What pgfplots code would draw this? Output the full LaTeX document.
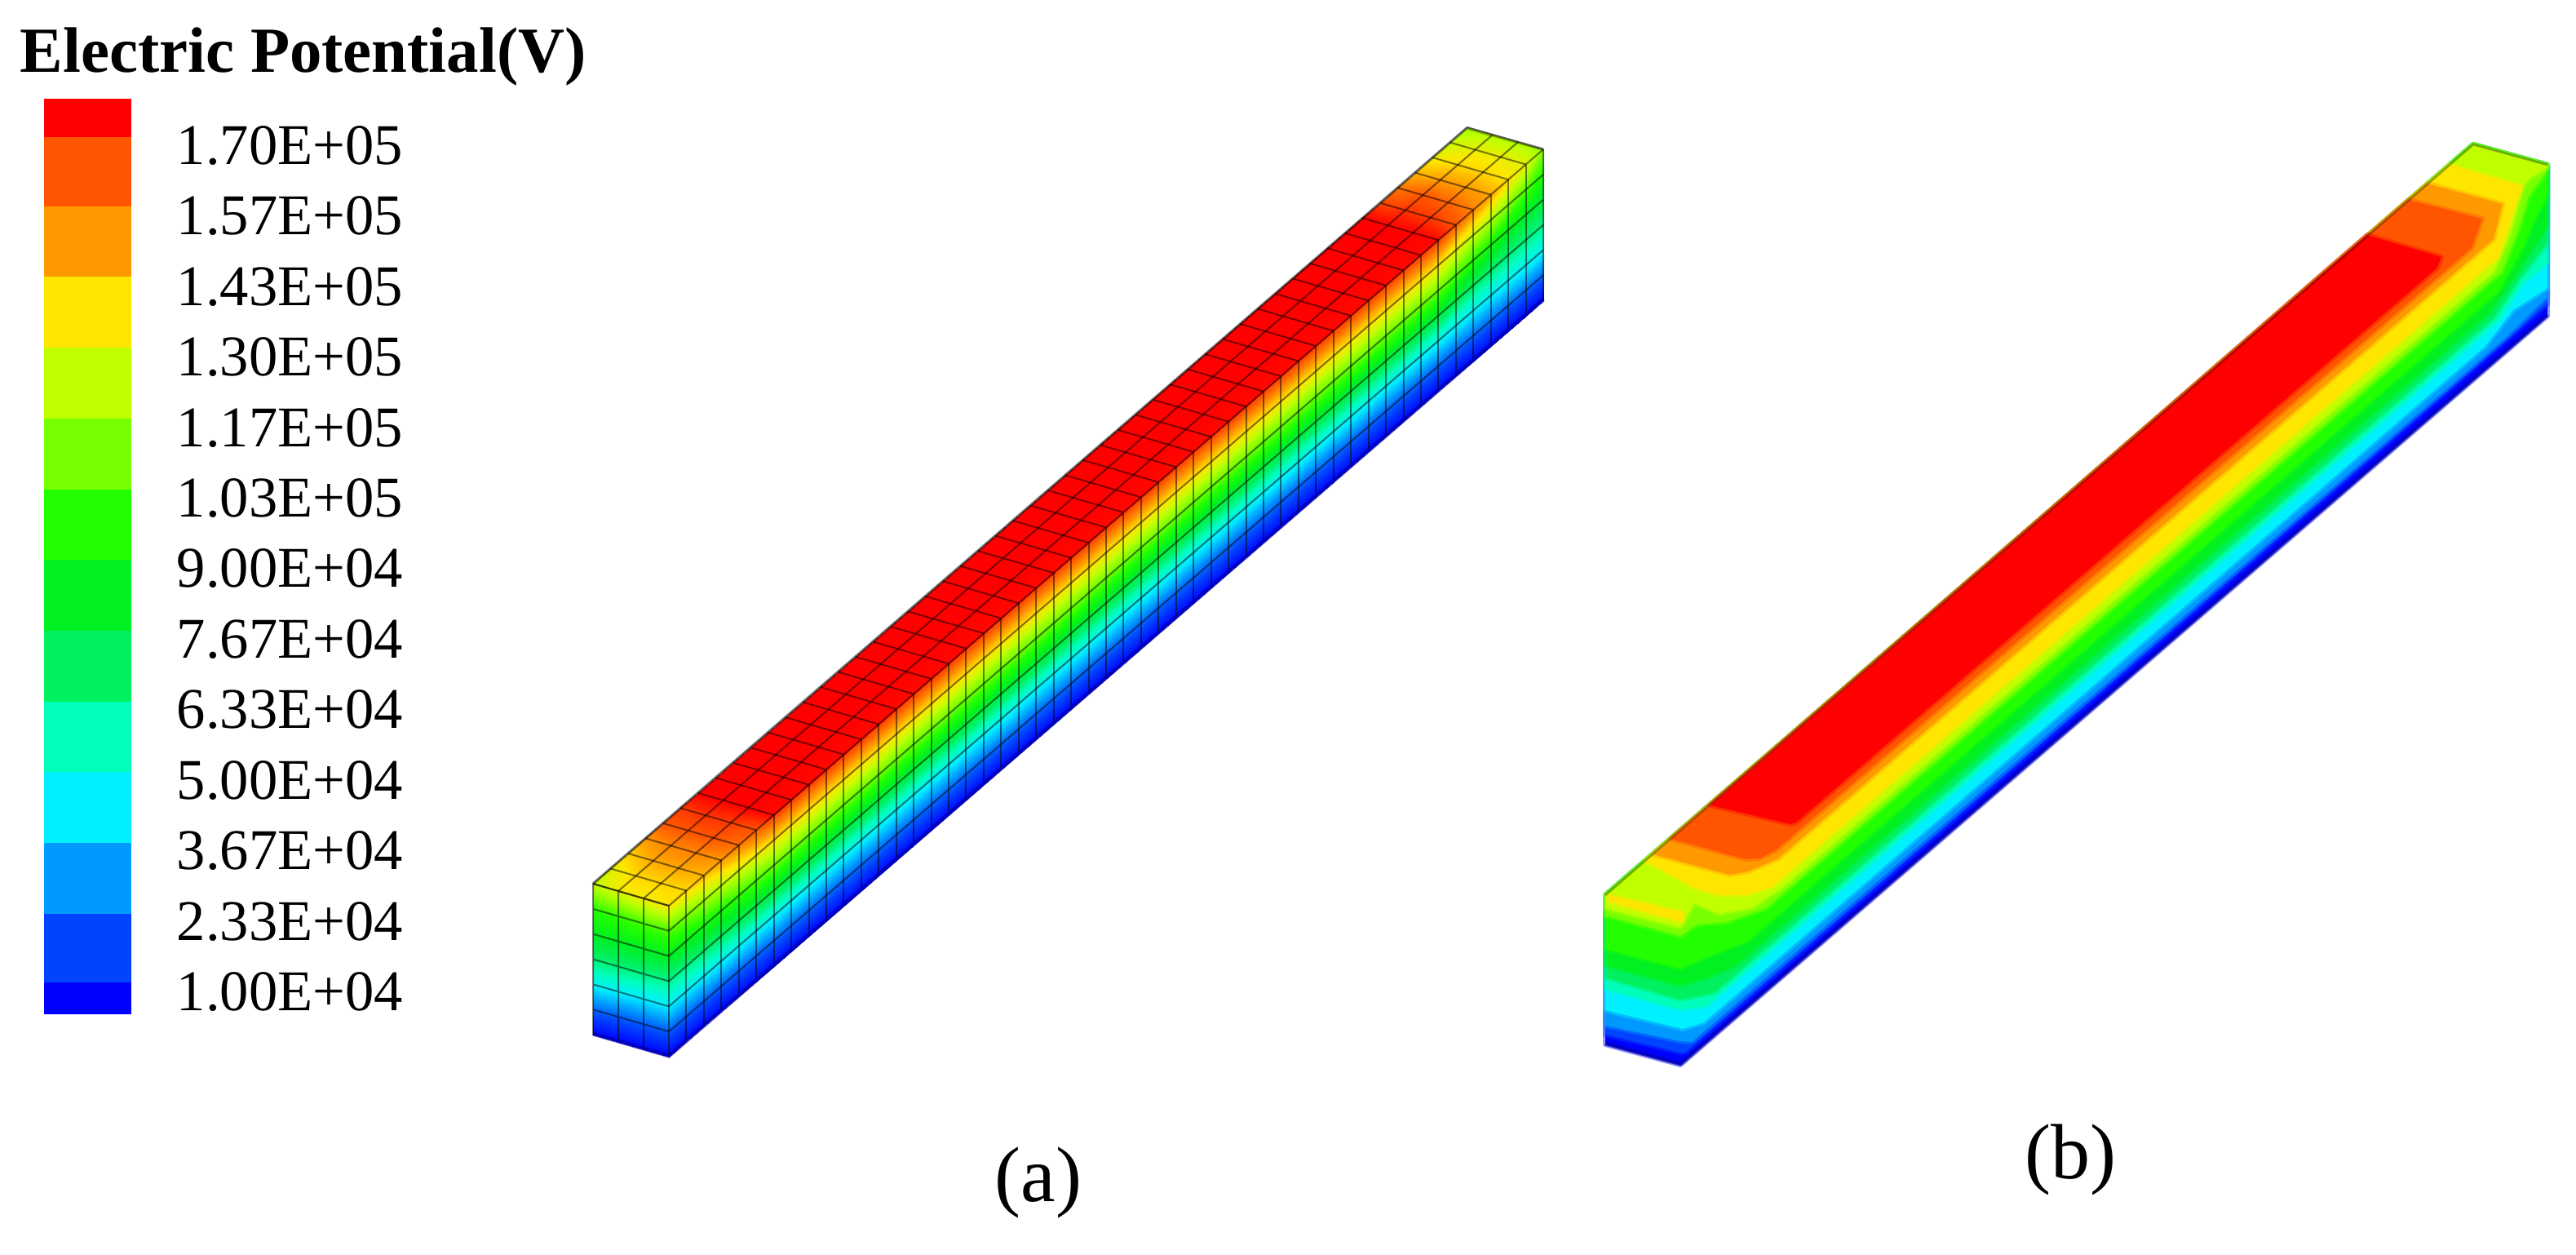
\documentclass[border=0pt]{standalone}
\usepackage{pgfplots}
\usepackage{pgfplotstable}
\usepackage{fontspec}
\setmainfont{Liberation Serif}
\pgfplotsset{compat=1.18}
\definecolor{c0}{RGB}{0,0,255}
\definecolor{c1}{RGB}{0,68,255}
\definecolor{c2}{RGB}{0,153,255}
\definecolor{c3}{RGB}{0,240,255}
\definecolor{c4}{RGB}{0,255,187}
\definecolor{c5}{RGB}{0,240,96}
\definecolor{c6}{RGB}{0,240,34}
\definecolor{c7}{RGB}{34,255,0}
\definecolor{c8}{RGB}{120,255,0}
\definecolor{c9}{RGB}{191,255,0}
\definecolor{c10}{RGB}{255,230,0}
\definecolor{c11}{RGB}{255,153,0}
\definecolor{c12}{RGB}{255,85,0}
\definecolor{c13}{RGB}{255,0,0}
\definecolor{navy}{RGB}{0,0,170}
\pgfplotstableread[row sep=\\]{
u a\\
0 0\\0 1\\nan nan\\0.02 0\\0.02 1\\nan nan\\0.04 0\\0.04 1\\nan nan\\0.06 0\\0.06 1\\nan nan\\0.08 0\\0.08 1\\nan nan\\
0.10 0\\0.10 1\\nan nan\\0.12 0\\0.12 1\\nan nan\\0.14 0\\0.14 1\\nan nan\\0.16 0\\0.16 1\\nan nan\\0.18 0\\0.18 1\\nan nan\\
0.20 0\\0.20 1\\nan nan\\0.22 0\\0.22 1\\nan nan\\0.24 0\\0.24 1\\nan nan\\0.26 0\\0.26 1\\nan nan\\0.28 0\\0.28 1\\nan nan\\
0.30 0\\0.30 1\\nan nan\\0.32 0\\0.32 1\\nan nan\\0.34 0\\0.34 1\\nan nan\\0.36 0\\0.36 1\\nan nan\\0.38 0\\0.38 1\\nan nan\\
0.40 0\\0.40 1\\nan nan\\0.42 0\\0.42 1\\nan nan\\0.44 0\\0.44 1\\nan nan\\0.46 0\\0.46 1\\nan nan\\0.48 0\\0.48 1\\nan nan\\
0.50 0\\0.50 1\\nan nan\\0.52 0\\0.52 1\\nan nan\\0.54 0\\0.54 1\\nan nan\\0.56 0\\0.56 1\\nan nan\\0.58 0\\0.58 1\\nan nan\\
0.60 0\\0.60 1\\nan nan\\0.62 0\\0.62 1\\nan nan\\0.64 0\\0.64 1\\nan nan\\0.66 0\\0.66 1\\nan nan\\0.68 0\\0.68 1\\nan nan\\
0.70 0\\0.70 1\\nan nan\\0.72 0\\0.72 1\\nan nan\\0.74 0\\0.74 1\\nan nan\\0.76 0\\0.76 1\\nan nan\\0.78 0\\0.78 1\\nan nan\\
0.80 0\\0.80 1\\nan nan\\0.82 0\\0.82 1\\nan nan\\0.84 0\\0.84 1\\nan nan\\0.86 0\\0.86 1\\nan nan\\0.88 0\\0.88 1\\nan nan\\
0.90 0\\0.90 1\\nan nan\\0.92 0\\0.92 1\\nan nan\\0.94 0\\0.94 1\\nan nan\\0.96 0\\0.96 1\\nan nan\\0.98 0\\0.98 1\\nan nan\\
1 0\\1 1\\
}\gridU
\pgfplotstableread[row sep=\\]{
u t\\
0 0\\1 0\\nan nan\\0 0.1667\\1 0.1667\\nan nan\\0 0.3333\\1 0.3333\\nan nan\\0 0.5\\1 0.5\\nan nan\\0 0.6667\\1 0.6667\\nan nan\\0 0.8333\\1 0.8333\\
}\gridSide
\pgfplotstableread[row sep=\\]{
u v\\
0 0\\1 0\\nan nan\\0 0.3333\\1 0.3333\\nan nan\\0 0.6667\\1 0.6667\\
}\gridTop
\pgfplotstableread[row sep=\\]{
s t\\
0 0\\1 0\\nan nan\\0 0.1667\\1 0.1667\\nan nan\\0 0.3333\\1 0.3333\\nan nan\\0 0.5\\1 0.5\\nan nan\\0 0.6667\\1 0.6667\\nan nan\\0 0.8333\\1 0.8333\\nan nan\\
0 0\\0 1\\nan nan\\0.3333 0\\0.3333 1\\nan nan\\0.6667 0\\0.6667 1\\
}\gridFront
\begin{document}
\begin{tikzpicture}
\begin{axis}[
  scale only axis, width=789.5pt, height=384.5pt,
  xmin=0, xmax=3158, ymin=0, ymax=1538, y dir=reverse,
  hide axis, enlargelimits=false, clip=true,
  colormap={fea}{rgb255=(0,0,255) rgb255=(0,68,255) rgb255=(0,153,255) rgb255=(0,240,255) rgb255=(0,255,187) rgb255=(0,240,96) rgb255=(0,240,34) rgb255=(34,255,0) rgb255=(120,255,0) rgb255=(191,255,0) rgb255=(255,230,0) rgb255=(255,153,0) rgb255=(255,85,0) rgb255=(255,0,0)},
  point meta min=0, point meta max=13,
  legbar/.style={draw=none},
  gline/.style={draw=black, draw opacity=0.5, line width=0.5pt, unbounded coords=jump, forget plot},
  band/.style={fill=#1, draw=#1, draw opacity=0.4, line width=1.5pt, line join=round},
]
\addplot[fill=white,draw=none] coordinates {(0,0)(3158,0)(3158,1538)(0,1538)} -- cycle;

% legend
\addplot[legbar,fill=c13] coordinates {(54,121)(161,121)(161,168)(54,168)} -- cycle;
\addplot[legbar,fill=c12] coordinates {(54,168)(161,168)(161,253)(54,253)} -- cycle;
\addplot[legbar,fill=c11] coordinates {(54,253)(161,253)(161,339)(54,339)} -- cycle;
\addplot[legbar,fill=c10] coordinates {(54,339)(161,339)(161,426)(54,426)} -- cycle;
\addplot[legbar,fill=c9] coordinates {(54,426)(161,426)(161,513)(54,513)} -- cycle;
\addplot[legbar,fill=c8] coordinates {(54,513)(161,513)(161,600)(54,600)} -- cycle;
\addplot[legbar,fill=c7] coordinates {(54,600)(161,600)(161,686)(54,686)} -- cycle;
\addplot[legbar,fill=c6] coordinates {(54,686)(161,686)(161,773)(54,773)} -- cycle;
\addplot[legbar,fill=c5] coordinates {(54,773)(161,773)(161,860)(54,860)} -- cycle;
\addplot[legbar,fill=c4] coordinates {(54,860)(161,860)(161,946)(54,946)} -- cycle;
\addplot[legbar,fill=c3] coordinates {(54,946)(161,946)(161,1033)(54,1033)} -- cycle;
\addplot[legbar,fill=c2] coordinates {(54,1033)(161,1033)(161,1120)(54,1120)} -- cycle;
\addplot[legbar,fill=c1] coordinates {(54,1120)(161,1120)(161,1204)(54,1204)} -- cycle;
\addplot[legbar,fill=c0] coordinates {(54,1204)(161,1204)(161,1243)(54,1243)} -- cycle;

\node[anchor=west,inner sep=0pt,font=\fontsize{19.7pt}{22pt}\selectfont\bfseries] at (axis cs:24,70) {Electric Potential(V)};
\begin{scope}[every node/.style={anchor=west,inner sep=0pt,font=\fontsize{17.65pt}{20pt}\selectfont}]
\node at (axis cs:216,179) {1.70E+05};
\node at (axis cs:216,265) {1.57E+05};
\node at (axis cs:216,352) {1.43E+05};
\node at (axis cs:216,438) {1.30E+05};
\node at (axis cs:216,525) {1.17E+05};
\node at (axis cs:216,611) {1.03E+05};
\node at (axis cs:216,697) {9.00E+04};
\node at (axis cs:216,784) {7.67E+04};
\node at (axis cs:216,870) {6.33E+04};
\node at (axis cs:216,957) {5.00E+04};
\node at (axis cs:216,1043) {3.67E+04};
\node at (axis cs:216,1130) {2.33E+04};
\node at (axis cs:216,1216) {1.00E+04};
\end{scope}
\node[inner sep=0pt,font=\fontsize{24pt}{28pt}\selectfont] at (axis cs:1273,1449) {(a)};
\node[inner sep=0pt,font=\fontsize{24pt}{28pt}\selectfont] at (axis cs:2538,1421) {(b)};

% ---- box (a): side face
\addplot[surf,shader=interp,mesh/cols=7,point meta=\thisrow{m}] table[x expr={820+1072*\thisrow{u}},y expr={1110-927*\thisrow{u}+185*\thisrow{t}}] {
u t m
0 0 10
0 0.1667 7.5
0 0.3333 6
0 0.5 4.5
0 0.6667 3
0 0.8333 1.3
0 1 0
0.02 0 10.3
0.02 0.1667 8
0.02 0.3333 6.2
0.02 0.5 4.6
0.02 0.6667 3
0.02 0.8333 1.3
0.02 1 0
0.06 0 11
0.06 0.1667 9
0.06 0.3333 6.8
0.06 0.5 5
0.06 0.6667 3.1
0.06 0.8333 1.3
0.06 1 0
0.12 0 12.3
0.12 0.1667 10
0.12 0.3333 7.8
0.12 0.5 5.5
0.12 0.6667 3.2
0.12 0.8333 1.4
0.12 1 0
0.88 0 12.3
0.88 0.1667 10
0.88 0.3333 7.8
0.88 0.5 5.5
0.88 0.6667 3.2
0.88 0.8333 1.4
0.88 1 0
0.94 0 10.8
0.94 0.1667 8.7
0.94 0.3333 6.6
0.94 0.5 4.8
0.94 0.6667 3.1
0.94 0.8333 1.4
0.94 1 0
0.98 0 9.5
0.98 0.1667 7.5
0.98 0.3333 5.9
0.98 0.5 4.6
0.98 0.6667 3.2
0.98 0.8333 1.4
0.98 1 0
1 0 8.2
1 0.1667 6.8
1 0.3333 5.5
1 0.5 4.5
1 0.6667 3.2
1 0.8333 1.4
1 1 0
};
% top face
\addplot[surf,shader=interp,mesh/cols=4,point meta=\thisrow{m}] table[x expr={727+1072*\thisrow{u}+93*\thisrow{v}},y expr={1083-927*\thisrow{u}+27*\thisrow{v}}] {
u v m
0 0 9
0 0.3333 9.8
0 0.6667 9.8
0 1 10
0.02 0 9.5
0.02 0.3333 10.2
0.02 0.6667 10.2
0.02 1 10.2
0.04 0 10.3
0.04 0.3333 10.8
0.04 0.6667 10.8
0.04 1 10.6
0.06 0 11
0.06 0.3333 11.3
0.06 0.6667 11.3
0.06 1 11
0.08 0 12
0.08 0.3333 12
0.08 0.6667 12
0.08 1 11.6
0.10 0 12.3
0.10 0.3333 12.4
0.10 0.6667 12.3
0.10 1 12
0.12 0 13
0.12 0.3333 13
0.12 0.6667 13
0.12 1 12.9
0.88 0 13
0.88 0.3333 13
0.88 0.6667 13
0.88 1 12.9
0.90 0 12.2
0.90 0.3333 12.4
0.90 0.6667 12.3
0.90 1 12
0.92 0 11.5
0.92 0.3333 12
0.92 0.6667 11.8
0.92 1 11.3
0.94 0 10.6
0.94 0.3333 11
0.94 0.6667 11
0.94 1 10.8
0.96 0 9.8
0.96 0.3333 10.2
0.96 0.6667 10.2
0.96 1 10
0.98 0 9.2
0.98 0.3333 9.7
0.98 0.6667 9.7
0.98 1 9.5
1 0 8.6
1 0.3333 8.8
1 0.6667 8.8
1 1 8.4
};
% front face
\addplot[surf,shader=interp,mesh/cols=7,point meta=\thisrow{m}] table[x expr={727+93*\thisrow{s}},y expr={1083+27*\thisrow{s}+185*\thisrow{t}}] {
s t m
0 0 9
0 0.1667 7
0 0.3333 6
0 0.5 4.8
0 0.6667 3.2
0 0.8333 1.4
0 1 0
0.3333 0 9.5
0.3333 0.1667 7.2
0.3333 0.3333 6
0.3333 0.5 4.7
0.3333 0.6667 3.1
0.3333 0.8333 1.3
0.3333 1 0
0.6667 0 9.8
0.6667 0.1667 7.4
0.6667 0.3333 6
0.6667 0.5 4.6
0.6667 0.6667 3
0.6667 0.8333 1.3
0.6667 1 0
1 0 10
1 0.1667 7.5
1 0.3333 6
1 0.5 4.5
1 0.6667 3
1 0.8333 1.3
1 1 0
};
% grid lines of (a)
\addplot[gline] table[x expr={820+1072*\thisrow{u}},y expr={1110-927*\thisrow{u}+185*\thisrow{a}}] {\gridU};
\addplot[gline] table[x expr={727+1072*\thisrow{u}+93*\thisrow{a}},y expr={1083-927*\thisrow{u}+27*\thisrow{a}}] {\gridU};
\addplot[gline] table[x expr={820+1072*\thisrow{u}},y expr={1110-927*\thisrow{u}+185*\thisrow{t}}] {\gridSide};
\addplot[gline] table[x expr={727+1072*\thisrow{u}+93*\thisrow{v}},y expr={1083-927*\thisrow{u}+27*\thisrow{v}}] {\gridTop};
\addplot[gline] table[x expr={727+93*\thisrow{s}},y expr={1083+27*\thisrow{s}+185*\thisrow{t}}] {\gridFront};
\addplot[draw=navy,draw opacity=0.7,line width=1.2pt] coordinates {(727,1267)(820,1294)(1892,367)};
\addplot[draw=black,draw opacity=0.3,line width=0.9pt] coordinates {(727,1083)(1798,157)(1892,183)};

% ---- box (b): nested contour regions
\addplot[band=c0] coordinates {(1968,1097)(3032,177)(3123,202)(3123,387)(2060,1305)(1968,1280)} -- cycle;
\addplot[band=c1] coordinates {(1968,1268)(2060,1290)(2066,1290)(3123,373)(3123,202)(3032,177)(1968,1097)} -- cycle;
\addplot[band=c2] coordinates {(1968,1257)(2060,1276)(2074,1277)(3074,412)(3123,364)(3123,202)(3032,177)(1968,1097)} -- cycle;
\addplot[band=c3] coordinates {(1968,1238)(2063,1261)(2089,1253)(3047,424)(3081,380)(3123,353)(3123,202)(3032,177)(1968,1097)} -- cycle;
\addplot[band=c4] coordinates {(1968,1212)(2060,1237)(2092,1233)(3063,393)(3093,347)(3123,322)(3123,202)(3032,177)(1968,1097)} -- cycle;
\addplot[band=c5] coordinates {(1968,1198)(2060,1225)(2101,1217)(3057,390)(3090,340)(3123,298)(3123,202)(3032,177)(1968,1097)} -- cycle;
\addplot[band=c6] coordinates {(1968,1183)(2060,1208)(2093,1198)(2128,1183)(3050,385)(3087,333)(3123,277)(3123,202)(3032,177)(1968,1097)} -- cycle;
\addplot[band=c7] coordinates {(1968,1163)(2060,1187)(2087,1175)(2143,1153)(3063,357)(3093,303)(3110,263)(3123,240)(3123,202)(3032,177)(1968,1097)} -- cycle;
\addplot[band=c8] coordinates {(1968,1122)(2060,1147)(2080,1133)(2117,1130)(2165,1113)(3067,333)(3087,283)(3100,240)(3120,213)(3123,202)(3032,177)(1968,1097)} -- cycle;
\addplot[band=c9] coordinates {(1968,1113)(2060,1137)(2077,1107)(2107,1120)(2147,1113)(2186,1087)(3057,333)(3077,287)(3093,227)(3102,218)(3123,205)(3123,202)(3032,177)(1968,1097)} -- cycle;
\addplot[band=c10] coordinates {(2017,1055)(2077,1088)(2107,1097)(2140,1097)(2172,1087)(3063,315)(3080,263)(3092,228)(3003,202)} -- cycle;
\addplot[band=c10] coordinates {(1972,1097)(2063,1118)(2063,1130)(1972,1105)} -- cycle;
\addplot[band=c11] coordinates {(2027,1047)(2120,1072)(2143,1068)(2180,1052)(3057,293)(3068,250)(2976,225)} -- cycle;
\addplot[band=c12] coordinates {(2048,1028)(2140,1053)(2157,1052)(2177,1042)(3030,304)(3043,268)(2953,245)} -- cycle;
\addplot[band=c13] coordinates {(2097,987)(2195,1010)(2202,1008)(2988,328)(2993,315)(2902,288)} -- cycle;
\addplot[draw=black,draw opacity=0.3,line width=0.7pt] coordinates {(1968,1097)(3032,177)(3123,202)};
\addplot[draw=navy,draw opacity=0.7,line width=1.2pt] coordinates {(1968,1279)(2060,1304)(3123,386)};
\end{axis}
\end{tikzpicture}
\end{document}
